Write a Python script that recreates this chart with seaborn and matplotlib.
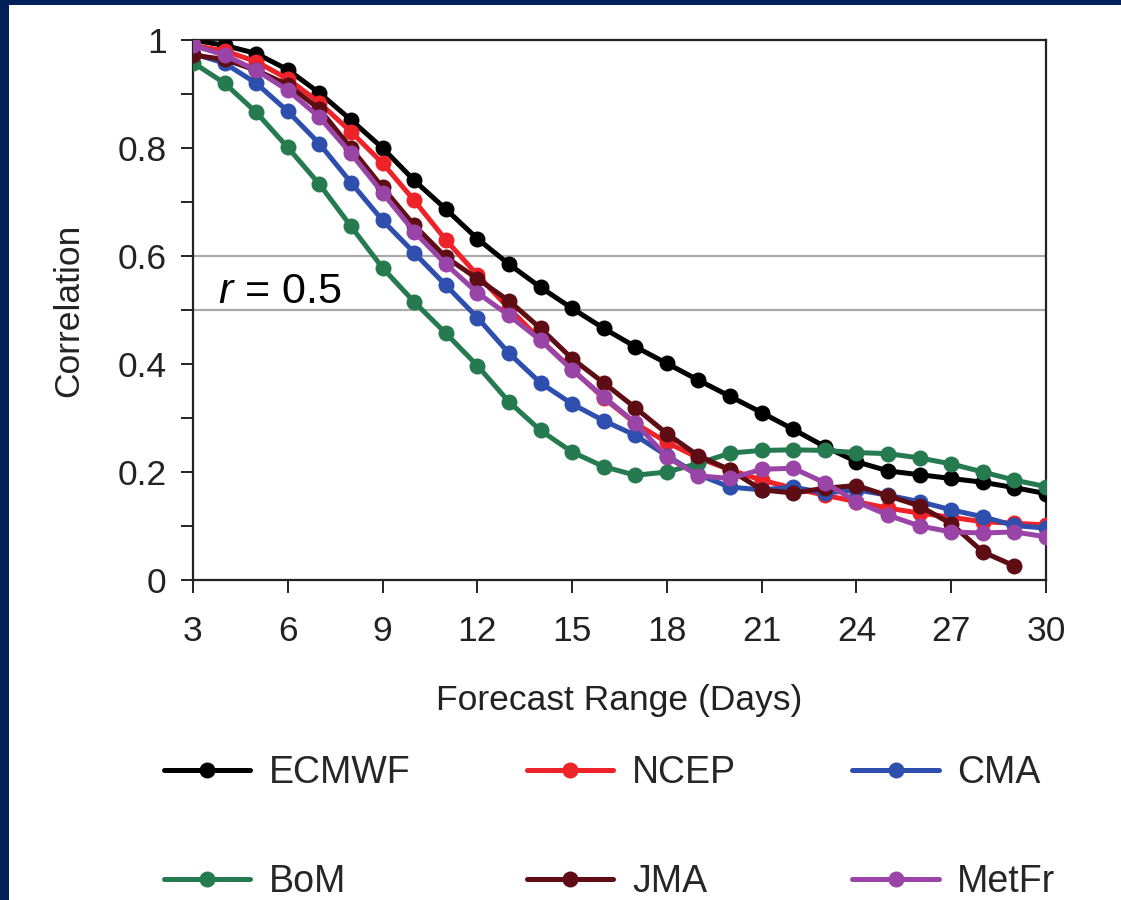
import numpy as np
import pandas as pd
import matplotlib
matplotlib.use("Agg")
import matplotlib.pyplot as plt
from matplotlib.patches import Rectangle
import seaborn as sns

sns.set_style("ticks")
plt.rcParams["font.family"] = ["Liberation Sans", "DejaVu Sans"]
plt.rcParams["mathtext.fontset"] = "custom"
plt.rcParams["mathtext.it"] = "Liberation Sans:italic"
plt.rcParams["mathtext.rm"] = "Liberation Sans"

# data
days = list(range(3, 31))
ecmwf = [1.0, 0.99, 0.975, 0.945, 0.902, 0.852, 0.8, 0.74, 0.687, 0.632, 0.585, 0.542, 0.503, 0.466,
         0.432, 0.401, 0.37, 0.34, 0.31, 0.279, 0.247, 0.219, 0.202, 0.195, 0.188, 0.181, 0.171, 0.16]
ncep = [0.99, 0.98, 0.96, 0.928, 0.884, 0.83, 0.772, 0.703, 0.63, 0.565, 0.503, 0.445, 0.39, 0.337,
        0.29, 0.255, 0.226, 0.204, 0.185, 0.17, 0.157, 0.145, 0.133, 0.124, 0.116, 0.108, 0.105, 0.102]
cma = [0.975, 0.957, 0.92, 0.868, 0.808, 0.736, 0.666, 0.606, 0.546, 0.486, 0.42, 0.365, 0.326, 0.295,
       0.268, 0.23, 0.195, 0.172, 0.167, 0.172, 0.161, 0.167, 0.157, 0.145, 0.13, 0.117, 0.101, 0.096]
bom = [0.958, 0.92, 0.866, 0.801, 0.733, 0.655, 0.578, 0.515, 0.457, 0.397, 0.33, 0.277, 0.237, 0.21,
       0.194, 0.2, 0.216, 0.235, 0.24, 0.241, 0.24, 0.236, 0.234, 0.226, 0.215, 0.2, 0.185, 0.173]
jma = [0.972, 0.964, 0.944, 0.917, 0.872, 0.8, 0.727, 0.657, 0.598, 0.558, 0.517, 0.466, 0.41, 0.365,
       0.319, 0.271, 0.23, 0.204, 0.167, 0.161, 0.17, 0.175, 0.156, 0.137, 0.104, 0.052, 0.026]
metfr = [0.99, 0.972, 0.944, 0.907, 0.857, 0.79, 0.717, 0.645, 0.585, 0.532, 0.49, 0.444, 0.389, 0.339,
         0.291, 0.228, 0.193, 0.188, 0.205, 0.207, 0.18, 0.145, 0.12, 0.1, 0.089, 0.087, 0.089, 0.08]

models = ["ECMWF", "NCEP", "CMA", "BoM", "JMA", "MetFr"]
series = [ecmwf, ncep, cma, bom, jma, metfr]
colors = ["#000000", "#ee2229", "#2e4fae", "#257a4f", "#5e0d14", "#9a44a8"]
yticks = [0, 0.2, 0.4, 0.6, 0.8, 1]
ytick_labels = ["0", "0.2", "0.4", "0.6", "0.8", "1"]

fig = plt.figure(figsize=(11.21, 9), dpi=100)
fig.patch.set_facecolor("#00205b")
fig.patches.append(Rectangle((9 / 1121, 0), 1, 1 - 5 / 900, transform=fig.transFigure,
                             facecolor="white", edgecolor="none", zorder=-1))

ax = fig.add_axes([193 / 1121, 1 - 580 / 900, (1046 - 193) / 1121, 540 / 900])

ax.axhline(0.5, color="#aaaaaa", lw=1.6, zorder=1)
ax.axhline(0.6, color="#aaaaaa", lw=1.6, zorder=1)

handles = {}
for name, vals, c in zip(models, series, colors):
    sns.lineplot(x=days[:len(vals)], y=vals, color=c, marker="o", markersize=11.5,
                 markeredgewidth=0, linewidth=3.6, label=name, ax=ax, zorder=3)
    handles[name] = ax.get_lines()[-1]
ax.get_legend().remove()

ax.set_xlim(3, 30)
ax.set_ylim(0, 1)
ax.set_xticks(range(3, 31, 3))
ax.set_yticks(yticks)
ax.set_yticklabels(ytick_labels)
ax.set_yticks([0.1, 0.3, 0.5, 0.7, 0.9], minor=True)
ax.tick_params(axis="both", which="both", direction="out", length=9, width=1.4,
               color="#222222", labelsize=25.5, labelcolor="#222222")
ax.tick_params(axis="y", pad=10)
ax.tick_params(axis="x", pad=16)
for s in ax.spines.values():
    s.set_visible(True)
    s.set_color("#222222")
    s.set_linewidth(1.6)

ax.set_xlabel("Forecast Range (Days)", fontsize=25.5, color="#222222", labelpad=26)
ax.set_ylabel("Correlation", fontsize=25.5, color="#222222", labelpad=23)

ax.text(3.8, 0.513, r"$r$ = 0.5", fontsize=31, color="black", zorder=4)

order = ["ECMWF", "BoM", "NCEP", "JMA", "CMA", "MetFr"]
fig.legend([handles[n] for n in order], order, loc="upper left",
           bbox_to_anchor=(164 / 1121, 1 - 755 / 900), ncol=3, frameon=False,
           fontsize=27, handlelength=2.3, handletextpad=0.5, columnspacing=3.1,
           labelspacing=1.95, borderaxespad=0, borderpad=0, markerscale=1.0)

fig.savefig("out.png", dpi=100, facecolor=fig.get_facecolor())
